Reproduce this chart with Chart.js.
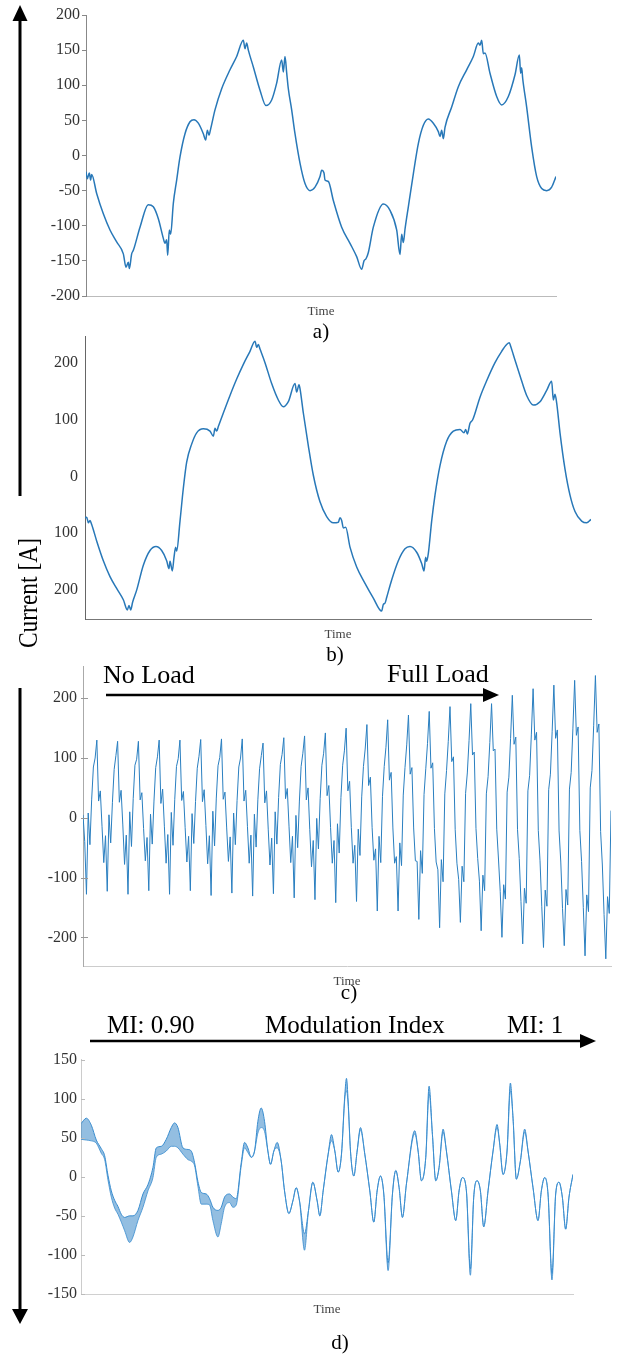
<!DOCTYPE html>
<html>
<head>
<meta charset="utf-8">
<script src="https://cdn.jsdelivr.net/npm/chart.js@4/dist/chart.umd.min.js"></script>
<style>
html,body{margin:0;padding:0;background:#fff;}
body{width:619px;height:1357px;position:relative;overflow:hidden;}
canvas{position:absolute;left:0;}
svg{position:absolute;left:0;top:0;}
</style>
</head>
<body>
<canvas id="cA"></canvas>
<canvas id="cB"></canvas>
<canvas id="cC"></canvas>
<canvas id="cD"></canvas>
<svg width="619" height="1357" xmlns="http://www.w3.org/2000/svg">
  <g fill="#000" stroke="none">
    <polygon points="12.5,21 20,5 27.5,21"/>
    <polygon points="12,1309 20,1324 28,1309"/>
    <polygon points="483,688 499,695 483,702"/>
    <polygon points="580,1034 596,1041 580,1048"/>
  </g>
  <g stroke="#000" stroke-width="3">
    <line x1="20" y1="20" x2="20" y2="496"/>
    <line x1="20" y1="688" x2="20" y2="1310"/>
    <line x1="106" y1="695" x2="484" y2="695" stroke-width="2.5"/>
    <line x1="90" y1="1041" x2="581" y2="1041" stroke-width="2.5"/>
  </g>
  <g font-family="'Liberation Serif','Times New Roman',Times,serif" fill="#000">
    <text x="103" y="683" font-size="26">No Load</text>
    <text x="387" y="682" font-size="26">Full Load</text>
    <text x="107" y="1033" font-size="25">MI: 0.90</text>
    <text x="265" y="1033" font-size="25">Modulation Index</text>
    <text x="507" y="1033" font-size="25">MI: 1</text>
    <text transform="translate(37,593) rotate(-90) scale(1,1.2)" text-anchor="middle" font-size="23.5">Current [A]</text>
    <text x="321" y="338" font-size="21" text-anchor="middle">a)</text>
    <text x="335" y="661" font-size="21" text-anchor="middle">b)</text>
    <text x="349" y="999" font-size="21" text-anchor="middle">c)</text>
    <text x="340" y="1349" font-size="21" text-anchor="middle">d)</text>
  </g>
</svg>
<script>
// ---------- Panel a) ----------
const tA = [0,4,10,14,17,32,52,72,92,112,120,127,130,137,142,162,187,202,217,232,237,242,245,250,254,262,272,282,297,312,324,337,352,359,364,369,374,387,407,432,452,472,477,482,487,502,522,540,557,572,587,592,597,602,607,617,627,642,657,672,687,702,707,714,717,727,742,767,792,812,827,834,840,847,862,892,912,932,942,947,952,957,967,982,997,1012,1027,1042,1057,1062,1067,1072,1077,1097,1117,1142,1162,1177,1182,1187,1192,1197,1212,1232,1247,1267,1287,1300,1304,1307,1310,1322,1337,1352,1367,1382,1397,1410];
const currentA = [-23,-33,-25,-35,-27,-54,-83,-106,-123,-140,-159,-152,-161,-140,-135,-102,-70,-73,-90,-118,-125,-120,-142,-106,-112,-68,-35,-2,31,48,51,46,31,22,36,29,38,65,95,122,141,164,152,160,150,126,93,71,79,103,136,119,141,118,95,65,31,-11,-40,-50,-45,-30,-21,-25,-35,-37,-64,-102,-125,-144,-162,-150,-147,-138,-102,-69,-78,-106,-141,-112,-124,-105,-73,-26,17,43,52,46,34,27,36,24,40,69,98,122,141,160,157,164,145,146,117,84,72,84,115,143,117,125,110,69,12,-30,-47,-50,-45,-30];
const tickValuesA = [-200,-150,-100,-50,0,50,100,150,200];

// ---------- Panel b) ----------
const tB = [0,5,10,15,20,35,55,75,95,115,127,132,137,143,155,175,195,213,230,245,252,255,262,267,272,275,285,295,305,320,335,355,375,385,390,395,400,415,435,455,475,495,510,515,520,525,540,560,580,595,610,630,635,642,645,655,670,685,705,725,745,760,765,770,775,782,795,815,840,865,890,895,900,905,920,940,960,975,995,1010,1017,1022,1025,1030,1040,1050,1065,1085,1105,1125,1137,1142,1147,1155,1163,1185,1205,1230,1250,1265,1273,1277,1285,1305,1325,1345,1365,1385,1400,1405,1410,1415,1425,1440,1455,1470,1490,1505,1518];
const currentB = [-73,-72,-82,-78,-85,-114,-149,-177,-198,-218,-236,-228,-236,-222,-201,-157,-131,-124,-131,-149,-163,-150,-167,-143,-125,-132,-79,-21,25,57,77,84,80,71,85,80,88,112,143,172,198,221,239,228,233,225,201,164,135,123,132,164,149,162,155,112,54,2,-45,-71,-82,-81,-73,-78,-91,-90,-125,-160,-189,-215,-238,-226,-224,-214,-183,-149,-128,-124,-134,-154,-167,-143,-150,-136,-79,-33,19,62,80,83,77,83,75,94,100,140,169,201,221,233,236,230,215,178,143,126,132,152,168,135,145,130,77,13,-33,-62,-79,-82,-76];
const tickValuesB = [-200,-100,0,100,200];

// ---------- Panel c) (No Load -> Full Load), equally spaced samples ----------
const currentC = [
  5,-40,
  -128,8,-45,30,85,100,130,28,45,-15,-75,-30,
  -123,5,-42,26,81,104,128,26,46,-12,-78,-29,
  -128,10,-48,32,88,98,128,30,42,-18,-72,-33,
  -122,6,-44,28,84,102,130,24,48,-14,-76,-28,
  -128,9,-46,31,86,99,130,29,44,-16,-74,-31,
  -122,7,-43,27,83,103,131,27,47,-13,-77,-30,
  -130,11,-47,33,87,101,132,31,43,-17,-73,-32,
  -126,8,-45,29,85,100,132,28,46,-15,-76,-29,
  -131,6,-49,30,82,104,125,25,45,-19,-79,-34,
  -127,10,-44,34,89,106,134,32,49,-14,-75,-31,
  -134,4,-50,28,86,108,137,30,50,-20,-82,-38,
  -137,-1,-52,32,88,108,142,37,54,-16,-76,-38,
  -142,-10,-59,34,88,112,150,45,61,-16,-76,-46,
  -140,-19,-63,35,86,115,156,54,68,-16,-71,-52,
  -156,-31,-75,36,86,118,164,63,76,-17,-76,-65,
  -156,-42,-80,38,84,122,172,73,84,-17,-72,-73,
  -170,-55,-93,39,82,124,178,83,92,-18,-74,-87,
  -184,-70,-107,40,79,128,186,94,102,-20,-76,-103,
  -175,-81,-107,41,75,129,191,105,110,-18,-68,-106,
  -189,-96,-122,40,69,126,191,112,115,-19,-69,-123,
  -200,-112,-136,43,68,133,205,123,135,-20,-68,-140,
  -211,-118,-143,45,71,140,216,130,143,-21,-72,-148,
  -217,-121,-148,47,73,144,222,133,147,-22,-74,-152,
  -214,-120,-146,48,76,150,230,138,152,-21,-73,-150,
  -231,-129,-157,50,79,155,238,143,157,-23,-79,-162,
  -236,-132,-160,12
];
const tickValuesC = [-200,-100,0,100,200];

// ---------- Panel d) (MI 0.90 -> 1), ripple band upper / lower ----------
const tD = [0,16,31,46,61,71,81,91,101,111,121,131,146,156,171,186,201,216,226,241,256,271,281,291,306,321,331,341,351,361,376,386,396,411,421,431,446,456,466,481,491,501,511,521,531,541,551,561,569,579,589,601,611,624,636,646,656,671,683,696,709,717,727,742,752,762,772,782,792,797,802,809,819,829,839,852,867,879,889,899,909,922,935,945,955,965,977,1002,1012,1022,1035,1045,1055,1065,1075,1087,1097,1112,1125,1135,1145,1157,1169,1179,1189,1199,1209,1222,1237,1249,1257,1267,1279,1289,1297,1307,1319,1332,1342,1357,1372,1382,1392,1402,1414,1425,1435,1445,1455,1465,1477];
const upperD = [68,75,66,47,36,27,2,-18,-30,-38,-48,-52,-50,-50,-43,-22,-10,12,37,39,48,63,69,63,37,35,33,18,-6,-20,-22,-28,-39,-43,-39,-26,-22,-26,-28,18,44,37,25,33,71,88,71,33,16,33,44,20,-18,-47,-31,-14,-31,-73,-43,-7,-31,-50,-18,29,54,33,6,29,105,126,97,33,1,33,63,29,-18,-58,-18,1,-22,-110,-22,8,-14,-52,-9,59,33,-5,25,116,54,-5,12,61,33,-18,-56,-18,-1,-18,-118,-26,-5,-18,-64,-18,33,67,42,3,33,120,75,-3,20,61,33,-14,-56,-18,-1,-22,-124,-22,-7,-26,-67,-26,3];
const lowerD = [48,47,46,43,30,22,-4,-26,-40,-48,-58,-69,-84,-77,-56,-39,-18,-1,25,29,33,39,39,37,29,22,20,14,-12,-35,-35,-36,-56,-77,-60,-39,-33,-39,-36,14,37,31,25,33,56,63,58,33,16,33,37,20,-18,-47,-31,-14,-31,-94,-43,-7,-31,-50,-18,29,46,33,6,29,100,110,92,33,1,33,60,29,-18,-58,-18,1,-22,-120,-22,8,-14,-52,-9,55,33,-5,25,106,54,-5,12,57,33,-18,-56,-18,-1,-18,-126,-26,-5,-18,-64,-18,33,63,42,3,33,110,75,-3,20,57,33,-14,-56,-18,-1,-22,-132,-22,-7,-26,-67,-26,3];
const tickValuesD = [-150,-100,-50,0,50,100,150];

// ---------- drawing ----------
const SERIF = "'Liberation Serif','Times New Roman',Times,serif";

const tickMarks = {
  id: 'tickMarks',
  afterDatasetsDraw(chart, args, opts) {
    if (!opts || !opts.len) return;
    const y = chart.scales.y, ctx = chart.ctx, x0 = chart.chartArea.left;
    ctx.save();
    ctx.strokeStyle = opts.color || '#999';
    ctx.lineWidth = 1;
    y.ticks.forEach(t => {
      const py = Math.round(y.getPixelForValue(t.value)) + 0.5;
      ctx.beginPath();
      ctx.moveTo(x0 - (opts.out || 0), py);
      ctx.lineTo(x0 + opts.len, py);
      ctx.stroke();
    });
    ctx.restore();
  }
};

function panel(id, g, o) {
  const cv = document.getElementById(id);
  const padTop = 12, padRight = 8, xH = 23;
  cv.width = g.R + padRight;
  cv.height = (g.B - g.T) + padTop + xH;
  cv.style.width = cv.width + 'px';
  cv.style.height = cv.height + 'px';
  cv.style.top = (g.T - padTop) + 'px';
  return new Chart(cv, {
    type: 'line',
    data: { datasets: o.datasets },
    options: {
      responsive: false, animation: false, devicePixelRatio: 1,
      layout: { padding: { top: padTop, right: padRight, left: 0, bottom: 0 } },
      plugins: { legend: { display: false }, tooltip: { enabled: false }, tickMarks: o.marks || {} },
      elements: { point: { radius: 0 } },
      scales: {
        x: {
          type: 'linear', min: o.xMin, max: o.xMax,
          ticks: { display: false },
          grid: { display: false, drawTicks: false },
          border: { display: true, color: o.xBorder, width: 1 },
          title: { display: true, text: 'Time', color: '#444', font: { family: SERIF, size: 13 }, padding: 0 },
          afterFit: s => { s.height = xH; }
        },
        y: {
          type: 'linear', min: o.yMin, max: o.yMax,
          afterBuildTicks: s => { s.ticks = o.yTicks.map(v => ({ value: v })); },
          ticks: { color: '#333', font: { family: SERIF, size: 16 }, padding: o.tickPad, callback: o.fmt || (v => String(v)) },
          grid: o.grid,
          border: { display: true, color: o.yBorder, width: 1 },
          afterFit: s => { s.width = g.L; }
        }
      }
    },
    plugins: [tickMarks]
  });
}

const pts = (xs, ys) => xs.map((x, i) => ({ x: x, y: ys[i] }));

panel('cA', { L: 86, T: 15, R: 556, B: 296 }, {
  datasets: [{ data: pts(tA, currentA), borderColor: '#2878b8', borderWidth: 1.5, cubicInterpolationMode: 'monotone', fill: false }],
  xMin: 0, xMax: 1410, yMin: -200, yMax: 200, yTicks: tickValuesA,
  tickPad: 2, grid: { display: true, drawOnChartArea: false, drawTicks: true, tickLength: 4, color: '#888' },
  xBorder: '#bbb', yBorder: '#888'
});

panel('cB', { L: 85, T: 332, R: 591, B: 619 }, {
  datasets: [{ data: pts(tB, currentB), borderColor: '#2878b8', borderWidth: 1.5, cubicInterpolationMode: 'monotone', fill: false }],
  xMin: 0, xMax: 1518, yMin: -252, yMax: 247, yTicks: tickValuesB,
  tickPad: 7, grid: { display: false, drawTicks: false },
  fmt: v => String(Math.abs(v)),
  xBorder: '#777', yBorder: '#666'
});

panel('cC', { L: 83, T: 663, R: 611, B: 966 }, {
  datasets: [{ data: currentC.map((v, i) => ({ x: i, y: v })), borderColor: '#2a7fc0', borderWidth: 1, tension: 0, fill: false }],
  xMin: 0, xMax: currentC.length - 1, yMin: -248, yMax: 253, yTicks: tickValuesC,
  tickPad: 6, grid: { display: false, drawTicks: false },
  marks: { len: 5, out: 2, color: '#999' },
  xBorder: '#ccc', yBorder: '#aaa'
});

panel('cD', { L: 81, T: 1058, R: 573, B: 1294 }, {
  datasets: [
    { data: pts(tD, upperD), borderColor: '#3a8dcf', borderWidth: 1, cubicInterpolationMode: 'monotone', fill: false },
    { data: pts(tD, lowerD), borderColor: '#3a8dcf', borderWidth: 0.8, cubicInterpolationMode: 'monotone', fill: '-1', backgroundColor: 'rgba(40,125,195,0.5)' }
  ],
  xMin: 0, xMax: 1477, yMin: -150, yMax: 150, yTicks: tickValuesD,
  tickPad: 4, grid: { display: false, drawTicks: false },
  marks: { len: 4, out: 0, color: '#bbb' },
  xBorder: '#d0d0d0', yBorder: '#ccc'
});
</script>
</body>
</html>
